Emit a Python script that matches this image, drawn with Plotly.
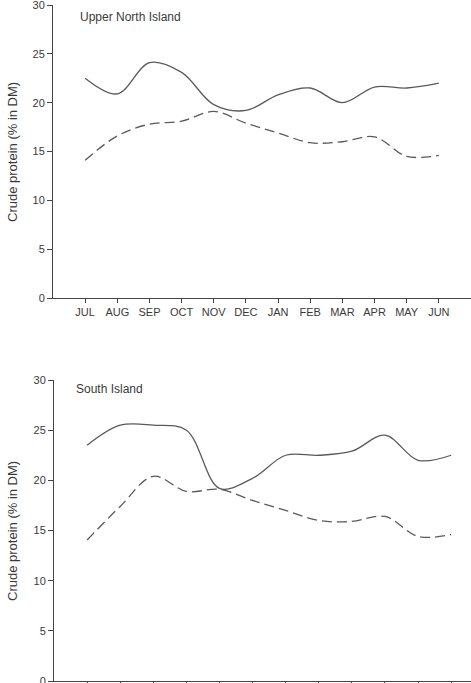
import plotly.graph_objects as go

months = ["JUL", "AUG", "SEP", "OCT", "NOV", "DEC", "JAN", "FEB", "MAR", "APR", "MAY", "JUN"]
yticks = [0, 5, 10, 15, 20, 25, 30]

north_solid = [22.5, 20.9, 24.1, 23.1, 19.8, 19.2, 20.8, 21.5, 20.0, 21.6, 21.5, 22.0]
north_dash = [14.1, 16.6, 17.8, 18.1, 19.1, 17.9, 16.9, 15.9, 16.0, 16.5, 14.5, 14.6]
south_solid = [23.5, 25.5, 25.5, 25.0, 19.2, 20.2, 22.5, 22.5, 22.9, 24.5, 22.0, 22.5]
south_dash = [14.05, 17.4, 20.4, 18.9, 19.1, 18.0, 17.0, 16.0, 15.9, 16.4, 14.4, 14.6]

W, H = 471, 683
xs = list(range(len(months)))
LC = "#5a5a5a"
FONT = "Liberation Sans, Arial, sans-serif"
TXT = "#3a3a3a"

fig = go.Figure()
for ys, dash, xa, ya in [
    (north_solid, "solid", "x", "y"),
    (north_dash, "10px,5px", "x", "y"),
    (south_solid, "solid", "x2", "y2"),
    (south_dash, "10px,5px", "x2", "y2"),
]:
    fig.add_trace(go.Scatter(x=xs, y=ys, mode="lines", xaxis=xa, yaxis=ya,
                             line=dict(color=LC, width=1.3, dash=dash, shape="spline", smoothing=1.0),
                             showlegend=False, hoverinfo="skip"))

axcommon = dict(showgrid=False, zeroline=False, showline=True, linecolor="#444", linewidth=1,
                ticks="outside", ticklen=4, tickcolor="#444", tickwidth=1, automargin=False,
                ticklabeloverflow="allow",
                tickfont=dict(family=FONT, size=11, color=TXT))

fig.update_layout(
    width=W, height=H, margin=dict(l=0, r=0, t=0, b=0, autoexpand=False),
    plot_bgcolor="white", paper_bgcolor="white",
    xaxis=dict(axcommon, domain=[53 / W, 1], range=[-1, 12], tickvals=xs, ticktext=months, anchor="y"),
    yaxis=dict(axcommon, domain=[(H - 298) / H, (H - 5) / H], range=[0, 30], tickvals=yticks, ticklen=5, anchor="x"),
    xaxis2=dict(axcommon, domain=[54 / W, 1], range=[-1, 11.6], tickvals=xs, ticktext=months,
                showticklabels=False, anchor="y2"),
    yaxis2=dict(axcommon, domain=[(H - 681) / H, (H - 380) / H], range=[0, 30], tickvals=yticks, ticklen=5, anchor="x2"),
    annotations=[
        dict(text="Upper North Island", xref="paper", yref="paper", x=78 / W, y=(H - 17) / H,
             xanchor="left", yanchor="middle", showarrow=False, font=dict(family=FONT, size=12, color=TXT)),
        dict(text="South Island", xref="paper", yref="paper", x=74 / W, y=(H - 389) / H,
             xanchor="left", yanchor="middle", showarrow=False, font=dict(family=FONT, size=12, color=TXT)),
        dict(text="Crude protein (% in DM)", xref="paper", yref="paper", x=12 / W, y=(H - 152) / H,
             xanchor="center", yanchor="middle", textangle=-90, showarrow=False,
             font=dict(family=FONT, size=13, color=TXT)),
        dict(text="Crude protein (% in DM)", xref="paper", yref="paper", x=12 / W, y=(H - 531) / H,
             xanchor="center", yanchor="middle", textangle=-90, showarrow=False,
             font=dict(family=FONT, size=13, color=TXT)),
    ],
)

fig.write_html("out.html")
